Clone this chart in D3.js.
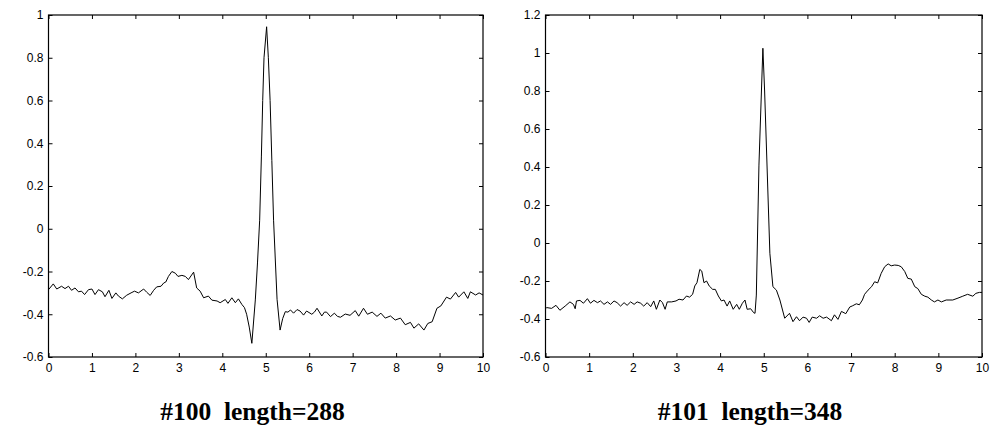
<!DOCTYPE html>
<html>
<head>
<meta charset="utf-8">
<script src="https://cdn.jsdelivr.net/npm/d3@7"></script>
<style>
  html, body { margin: 0; padding: 0; background: #fff; }
  svg { display: block; }
  .tick text { font-family: "Liberation Sans", Arial, sans-serif; font-size: 12px; fill: #000; }
  .tick line { stroke: #000; }
</style>
</head>
<body>
<svg id="chart" width="991" height="425"></svg>
<script>
// Beat #100 (288 samples), times in ms/100 and amplitude
const time100 = [
  0, 0.11, 0.19, 0.30, 0.38, 0.46, 0.53, 0.61, 0.69, 0.76,
  0.83, 0.92, 1.00, 1.07, 1.15, 1.24, 1.30, 1.39, 1.46, 1.55,
  1.61, 1.70, 1.80, 1.90, 1.98, 2.07, 2.19, 2.26, 2.34, 2.42,
  2.49, 2.59, 2.65, 2.70, 2.76, 2.84, 2.92, 2.98, 3.07, 3.15,
  3.22, 3.34, 3.41, 3.49, 3.57, 3.68, 3.76, 3.88, 3.95, 4.07,
  4.13, 4.22, 4.30, 4.37, 4.45, 4.51, 4.56, 4.62, 4.68, 4.76,
  4.81, 4.86, 4.90, 4.93, 4.96, 5.02, 5.06, 5.10, 5.14, 5.18,
  5.26, 5.33, 5.39, 5.45, 5.51, 5.57, 5.64, 5.72, 5.79, 5.87,
  5.94, 6.06, 6.12, 6.18, 6.29, 6.35, 6.40, 6.49, 6.58, 6.65,
  6.72, 6.83, 6.94, 7.06, 7.14, 7.25, 7.34, 7.45, 7.56, 7.65,
  7.75, 7.87, 7.98, 8.10, 8.21, 8.33, 8.41, 8.52, 8.64, 8.73,
  8.83, 8.94, 9.03, 9.16, 9.25, 9.37, 9.44, 9.56, 9.65, 9.71,
  9.83, 9.91, 10
];
const value100 = [
  -0.285, -0.258, -0.282, -0.269, -0.280, -0.269, -0.288, -0.277, -0.295, -0.292,
  -0.308, -0.285, -0.282, -0.308, -0.285, -0.295, -0.318, -0.288, -0.326, -0.300,
  -0.315, -0.328, -0.311, -0.300, -0.292, -0.300, -0.282, -0.297, -0.312, -0.288,
  -0.272, -0.269, -0.254, -0.249, -0.223, -0.200, -0.208, -0.223, -0.218, -0.223,
  -0.238, -0.203, -0.277, -0.292, -0.323, -0.315, -0.334, -0.338, -0.346, -0.331,
  -0.349, -0.323, -0.346, -0.328, -0.354, -0.369, -0.400, -0.460, -0.536, -0.333,
  -0.160, 0.040, 0.340, 0.600, 0.800, 0.945, 0.800, 0.600, 0.320, 0.040,
  -0.330, -0.474, -0.420, -0.388, -0.390, -0.380, -0.395, -0.378, -0.385, -0.404,
  -0.385, -0.400, -0.390, -0.372, -0.408, -0.390, -0.390, -0.411, -0.395, -0.410,
  -0.414, -0.399, -0.405, -0.383, -0.409, -0.372, -0.400, -0.390, -0.410, -0.395,
  -0.418, -0.408, -0.427, -0.418, -0.449, -0.438, -0.465, -0.445, -0.474, -0.443,
  -0.435, -0.372, -0.361, -0.320, -0.329, -0.298, -0.320, -0.295, -0.326, -0.295,
  -0.310, -0.300, -0.310
];

// Beat #101 (348 samples)
const time101 = [
  0.00, 0.03, 0.14, 0.24, 0.33, 0.45, 0.56, 0.64, 0.68, 0.71,
  0.79, 0.87, 0.96, 1.03, 1.11, 1.19, 1.26, 1.34, 1.42, 1.49,
  1.57, 1.64, 1.72, 1.80, 1.87, 1.95, 2.03, 2.10, 2.18, 2.25,
  2.33, 2.41, 2.48, 2.54, 2.62, 2.68, 2.74, 2.79, 2.89, 2.99,
  3.06, 3.15, 3.23, 3.30, 3.37, 3.42, 3.47, 3.535, 3.58, 3.63,
  3.69, 3.75, 3.83, 3.89, 3.96, 4.03, 4.09, 4.16, 4.22, 4.30,
  4.38, 4.44, 4.51, 4.57, 4.62, 4.70, 4.77, 4.80, 4.83, 4.89,
  4.98, 5.02, 5.14, 5.21, 5.29, 5.37, 5.48, 5.59, 5.67, 5.75,
  5.82, 5.90, 5.98, 6.04, 6.11, 6.21, 6.28, 6.36, 6.44, 6.55,
  6.62, 6.70, 6.78, 6.88, 6.97, 7.04, 7.12, 7.19, 7.26, 7.31,
  7.39, 7.47, 7.54, 7.61, 7.69, 7.77, 7.85, 7.92, 8.00, 8.08,
  8.15, 8.23, 8.30, 8.38, 8.46, 8.53, 8.61, 8.69, 8.76, 8.84,
  8.91, 8.99, 9.07, 9.18, 9.33, 9.45, 9.56, 9.67, 9.79, 9.86,
  9.94, 10
];
const value101 = [
  -0.345, -0.340, -0.344, -0.328, -0.354, -0.332, -0.310, -0.323, -0.346, -0.305,
  -0.302, -0.317, -0.293, -0.317, -0.302, -0.314, -0.305, -0.323, -0.310, -0.323,
  -0.305, -0.314, -0.332, -0.314, -0.328, -0.310, -0.323, -0.310, -0.317, -0.332,
  -0.314, -0.335, -0.305, -0.349, -0.300, -0.314, -0.349, -0.310, -0.310, -0.305,
  -0.296, -0.300, -0.279, -0.285, -0.270, -0.226, -0.209, -0.139, -0.148, -0.209,
  -0.200, -0.226, -0.244, -0.244, -0.279, -0.305, -0.300, -0.332, -0.305, -0.349,
  -0.323, -0.349, -0.317, -0.300, -0.349, -0.346, -0.367, -0.370, -0.274, 0.410,
  1.025, 0.800, -0.054, -0.230, -0.248, -0.300, -0.396, -0.370, -0.414, -0.388,
  -0.409, -0.390, -0.396, -0.418, -0.390, -0.396, -0.383, -0.396, -0.390, -0.409,
  -0.378, -0.402, -0.360, -0.372, -0.337, -0.330, -0.320, -0.325, -0.300, -0.270,
  -0.248, -0.230, -0.204, -0.210, -0.160, -0.125, -0.110, -0.120, -0.116, -0.118,
  -0.125, -0.150, -0.186, -0.190, -0.230, -0.240, -0.270, -0.280, -0.285, -0.300,
  -0.310, -0.300, -0.310, -0.300, -0.300, -0.290, -0.280, -0.270, -0.280, -0.265,
  -0.260, -0.260
];

const xTicks = [0, 1, 2, 3, 4, 5, 6, 7, 8, 9, 10];
const yTicks100 = [-0.6, -0.4, -0.2, 0, 0.2, 0.4, 0.6, 0.8, 1];
const yTicks101 = [-0.6, -0.4, -0.2, 0, 0.2, 0.4, 0.6, 0.8, 1, 1.2];
const titles = ["#100  length=288", "#101  length=348"];

const panels = [
  { t: time100, v: value100, yDomain: [-0.6, 1], yTicks: yTicks100, title: titles[0],
    left: 48.5, right: 483, titleX: 252.5 },
  { t: time101, v: value101, yDomain: [-0.6, 1.2], yTicks: yTicks101, title: titles[1],
    left: 545.5, right: 982, titleX: 750 }
];
const plotTop = 15, plotBottom = 357, tickLen = 4;

const svg = d3.select("#chart");
const fmt = d => String(+d.toFixed(1));

panels.forEach(p => {
  const x = d3.scaleLinear().domain([0, 10]).range([p.left, p.right]);
  const y = d3.scaleLinear().domain(p.yDomain).range([plotBottom, plotTop]);
  const g = svg.append("g");

  // bottom axis with labels, ticks pointing inward
  g.append("g").attr("transform", `translate(0,${plotBottom})`)
    .call(d3.axisBottom(x).tickValues(xTicks).tickFormat(fmt)
      .tickSizeInner(-tickLen).tickSizeOuter(0).tickPadding(6))
    .call(a => a.select(".domain").remove());
  // top mirrored ticks
  g.append("g").attr("transform", `translate(0,${plotTop})`)
    .call(d3.axisTop(x).tickValues(xTicks).tickFormat("")
      .tickSizeInner(-tickLen).tickSizeOuter(0))
    .call(a => a.select(".domain").remove());
  // left axis with labels
  g.append("g").attr("transform", `translate(${p.left},0)`)
    .call(d3.axisLeft(y).tickValues(p.yTicks).tickFormat(fmt)
      .tickSizeInner(-tickLen).tickSizeOuter(0).tickPadding(5))
    .call(a => a.select(".domain").remove());
  // right mirrored ticks
  g.append("g").attr("transform", `translate(${p.right},0)`)
    .call(d3.axisRight(y).tickValues(p.yTicks).tickFormat("")
      .tickSizeInner(-tickLen).tickSizeOuter(0))
    .call(a => a.select(".domain").remove());

  // frame
  g.append("rect")
    .attr("x", p.left).attr("y", plotTop)
    .attr("width", p.right - p.left).attr("height", plotBottom - plotTop)
    .attr("fill", "none").attr("stroke", "#000").attr("stroke-width", 1.2);

  // waveform
  const pts = d3.zip(p.t, p.v);
  g.append("path")
    .datum(pts)
    .attr("fill", "none")
    .attr("stroke", "#000")
    .attr("stroke-width", 1)
    .attr("stroke-linejoin", "round")
    .attr("d", d3.line().x(d => x(d[0])).y(d => y(d[1])));

  // caption
  svg.append("text")
    .attr("x", p.titleX).attr("y", 420)
    .attr("text-anchor", "middle")
    .style("white-space", "pre")
    .style("font-family", "'Liberation Serif', 'Times New Roman', serif")
    .style("font-weight", "bold")
    .style("font-size", "25.5px")
    .attr("fill", "#000")
    .text(p.title);
});
</script>
</body>
</html>
